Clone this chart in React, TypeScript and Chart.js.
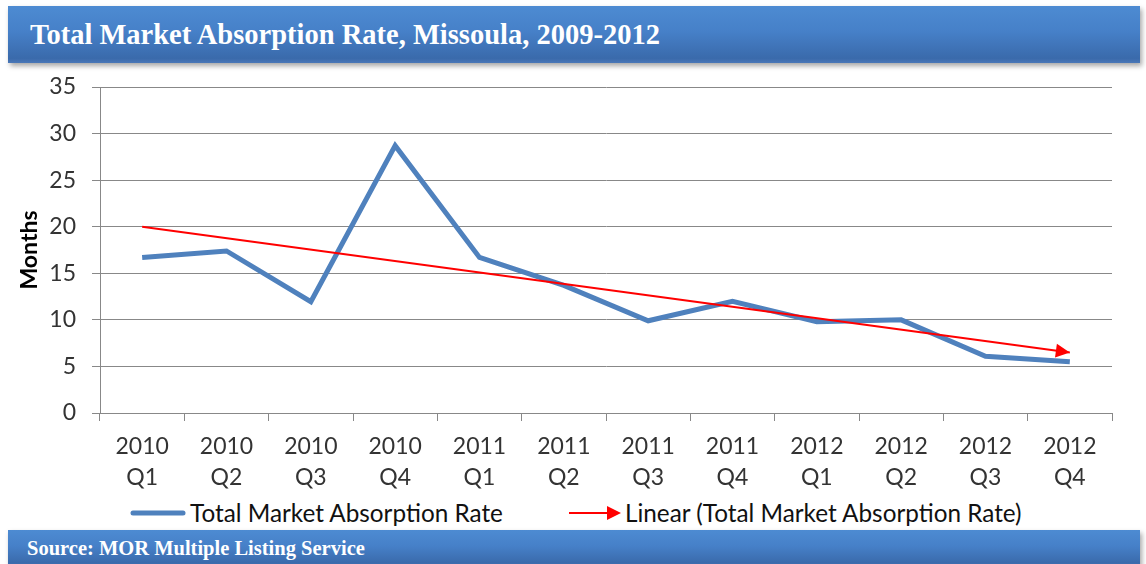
import React, { useEffect, useRef } from "react";
import { Chart, registerables } from "chart.js";

Chart.register(...registerables);

const years = ["2010", "2010", "2010", "2010", "2011", "2011", "2011", "2011", "2012", "2012", "2012", "2012"];
const quarters = ["Q1", "Q2", "Q3", "Q4", "Q1", "Q2", "Q3", "Q4", "Q1", "Q2", "Q3", "Q4"];
const absorptionRate = [16.7, 17.4, 11.95, 28.7, 16.7, 13.7, 9.9, 12.0, 9.8, 10.0, 6.1, 5.5];
const trendStart = 20.0;
const trendEnd = 6.5;
const yTicks = [0, 5, 10, 15, 20, 25, 30, 35];

const seriesName = "Total Market Absorption Rate";
const trendName = "Linear (Total Market Absorption Rate)";
const titleText = "Total Market Absorption Rate, Missoula, 2009-2012";
const sourceText = "Source: MOR Multiple Listing Service";

const BLUE = "#4f81bd";
const RED = "#ff0000";
const TICK_FONT = "Lato";

const arrowPlugin = {
  id: "trendArrow",
  afterDatasetsDraw(chart: any) {
    const meta = chart.getDatasetMeta(1);
    const pts = meta.data;
    if (!pts || pts.length < 2) return;
    const first = pts[0];
    const last = pts[pts.length - 1];
    const ang = Math.atan2(last.y - first.y, last.x - first.x);
    const ctx = chart.ctx;
    ctx.save();
    ctx.translate(last.x, last.y);
    ctx.rotate(ang);
    ctx.beginPath();
    ctx.moveTo(0, 0);
    ctx.lineTo(-14, -7);
    ctx.lineTo(-14, 7);
    ctx.closePath();
    ctx.fillStyle = RED;
    ctx.fill();
    ctx.restore();
  },
};

export default function App() {
  const ref = useRef<HTMLCanvasElement | null>(null);

  useEffect(() => {
    if (!ref.current) return;
    const labels = years.map((y, i) => [y, quarters[i]]);
    const trend = absorptionRate.map((_, i) =>
      i === 0 ? trendStart : i === absorptionRate.length - 1 ? trendEnd : null
    );

    const chart = new Chart(ref.current, {
      type: "line",
      data: {
        labels,
        datasets: [
          {
            label: seriesName,
            data: absorptionRate,
            borderColor: BLUE,
            borderWidth: 5,
            pointRadius: 0,
            tension: 0,
            borderJoinStyle: "miter",
            order: 2,
          },
          {
            label: trendName,
            data: trend,
            borderColor: RED,
            borderWidth: 2,
            pointRadius: 0,
            spanGaps: true,
            order: 1,
          },
        ],
      },
      options: {
        animation: false,
        responsive: true,
        maintainAspectRatio: false,
        layout: { padding: { left: 12, right: 34, top: 21, bottom: 0 } },
        plugins: {
          tooltip: { enabled: false },
          legend: { display: false },
        },
        scales: {
          x: {
            offset: true,
            afterFit: (scale: any) => {
              scale.height = 80;
              scale.paddingLeft = 0;
              scale.paddingRight = 0;
            },
            grid: {
              offset: true,
              drawOnChartArea: false,
              drawTicks: true,
              tickLength: 8,
              color: "#888888",
            },
            border: { color: "#888888" },
            ticks: {
              color: "#333",
              font: { family: TICK_FONT, size: 23, lineHeight: 1.35 },
              maxRotation: 0,
              autoSkip: false,
              padding: 10,
            },
          },
          y: {
            min: 0,
            max: 35,
            afterBuildTicks: (axis: any) => {
              axis.ticks = yTicks.map((v) => ({ value: v }));
            },
            afterFit: (scale: any) => {
              scale.width = 88;
              scale.paddingTop = 0;
              scale.paddingBottom = 0;
            },
            grid: {
              color: "#888888",
              tickLength: 8,
            },
            border: { color: "#888888" },
            ticks: {
              color: "#333",
              font: { family: TICK_FONT, size: 23 },
              padding: 16,
            },
            title: {
              display: true,
              text: "Months",
              color: "#000",
              font: { family: TICK_FONT, size: 23, weight: "bold" },
              padding: { top: 4, bottom: 0 },
            },
          },
        },
      },
      plugins: [arrowPlugin],
    } as any);
    return () => chart.destroy();
  }, []);

  const barBase: React.CSSProperties = {
    position: "absolute",
    left: 8,
    width: 1132,
    background: "linear-gradient(to bottom, #4d8bd2 0%, #4680c8 45%, #3a6aab 92%, #4a78b8 100%)",
    boxShadow: "2px 3px 5px rgba(0,0,0,0.35)",
    color: "#fff",
    fontFamily: "'Liberation Serif', serif",
    fontWeight: "bold",
    display: "flex",
    alignItems: "center",
    boxSizing: "border-box",
  };

  const legendText: React.CSSProperties = {
    position: "absolute",
    top: 497,
    height: 32,
    lineHeight: "32px",
    fontFamily: TICK_FONT,
    fontSize: 24.3,
    color: "#111",
    whiteSpace: "nowrap",
  };

  return (
    <div
      style={{
        position: "fixed",
        left: 0,
        top: 0,
        width: 1146,
        height: 564,
        overflow: "hidden",
        background: "#fff",
      }}
    >
      <div style={{ ...barBase, top: 6, height: 57, paddingLeft: 22, fontSize: 28.5 }}>{titleText}</div>
      <div style={{ position: "absolute", left: 0, top: 66, width: 1146, height: 427 }}>
        <canvas ref={ref} />
      </div>
      <svg style={{ position: "absolute", left: 129, top: 503, overflow: "visible" }} width={58} height={20}>
        <line x1={4} y1={10} x2={54} y2={10} stroke={BLUE} strokeWidth={5} strokeLinecap="round" />
      </svg>
      <div style={{ ...legendText, left: 190 }}>{seriesName}</div>
      <svg style={{ position: "absolute", left: 569, top: 503, overflow: "visible" }} width={52} height={20}>
        <line x1={0} y1={10} x2={40} y2={10} stroke={RED} strokeWidth={2} />
        <polygon points="52,10 38,3 38,17" fill={RED} />
      </svg>
      <div style={{ ...legendText, left: 625 }}>{trendName}</div>
      <div style={{ ...barBase, top: 530, height: 36, paddingLeft: 19, fontSize: 20.5 }}>{sourceText}</div>
    </div>
  );
}
